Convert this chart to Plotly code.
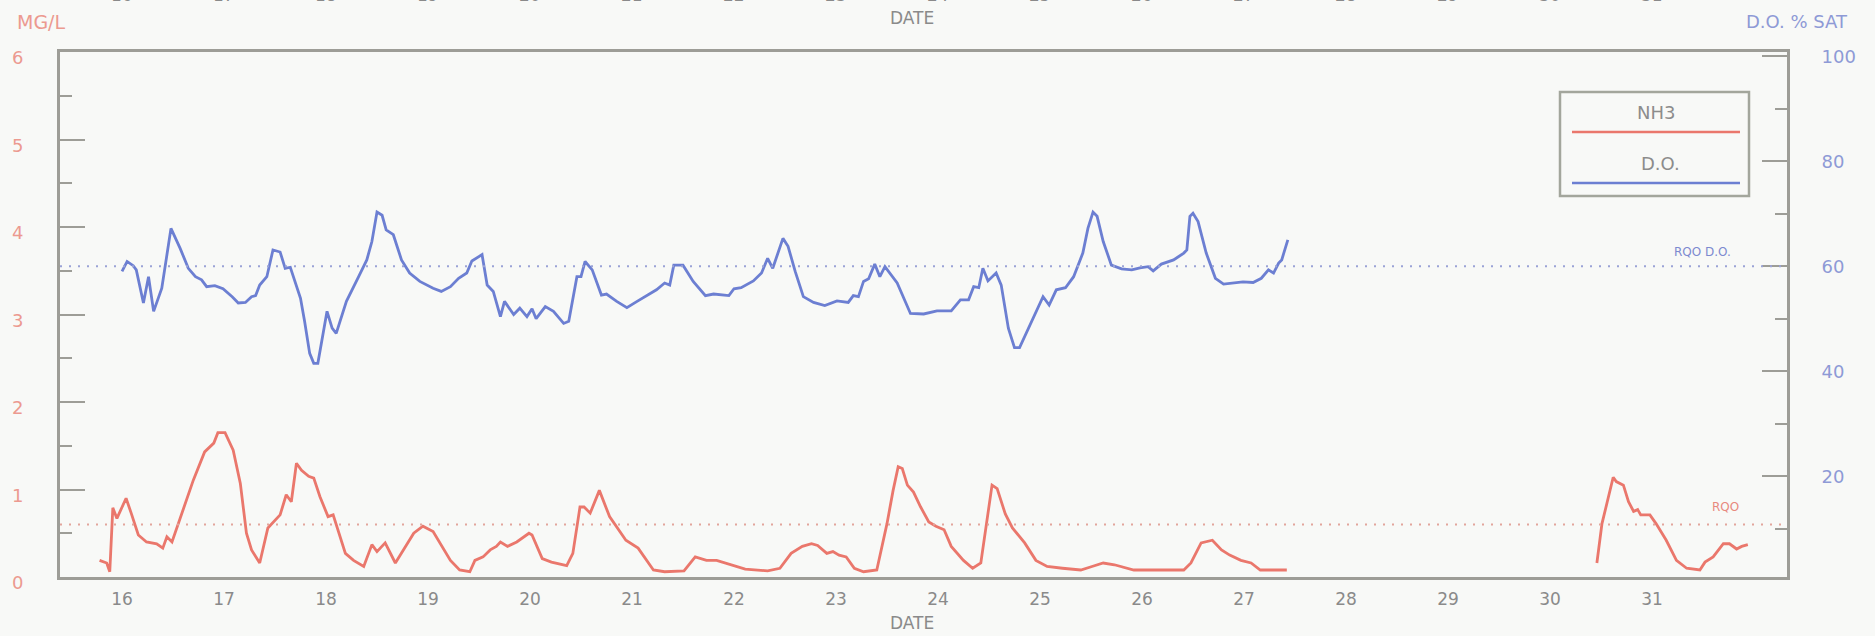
import plotly.graph_objects as go

# ---------------- data ----------------
days = [16, 17, 18, 19, 20, 21, 22, 23, 24, 25, 26, 27, 28, 29, 30, 31]
day_labels = [str(d) for d in days]

nh3_day = [15.78, 15.85, 15.88, 15.91, 15.95, 16.04, 16.09, 16.16, 16.24, 16.34, 16.40, 16.44, 16.49,
           16.59, 16.70, 16.81, 16.90, 16.94, 17.01, 17.09, 17.16, 17.22, 17.27, 17.35, 17.43, 17.55,
           17.61, 17.66, 17.71, 17.76, 17.83, 17.88, 17.94, 18.02, 18.07, 18.19, 18.27, 18.37, 18.45,
           18.50, 18.58, 18.68, 18.86, 18.95, 19.05, 19.22, 19.31, 19.41, 19.46, 19.54, 19.61, 19.67,
           19.71, 19.78, 19.87, 19.99, 20.02, 20.12, 20.21, 20.36, 20.42, 20.49, 20.53, 20.59, 20.68,
           20.78, 20.87, 20.94, 21.06, 21.21, 21.32, 21.51, 21.62, 21.73, 21.83, 21.96, 22.11, 22.33,
           22.45, 22.56, 22.67, 22.76, 22.82, 22.91, 22.97, 23.03, 23.10, 23.18, 23.27, 23.40, 23.50,
           23.56, 23.61, 23.65, 23.70, 23.76, 23.83, 23.91, 23.98, 24.06, 24.13, 24.25, 24.34, 24.42,
           24.47, 24.53, 24.58, 24.66, 24.73, 24.85, 24.96, 25.07, 25.22, 25.40, 25.51, 25.62, 25.73,
           25.92, 26.41, 26.48, 26.58, 26.69, 26.78, 26.86, 26.97, 27.07, 27.16, 27.42, None,
           30.46, 30.51, 30.62, 30.65, 30.72, 30.77, 30.82, 30.86, 30.89, 30.98, 31.04, 31.14, 31.24,
           31.34, 31.47, 31.52, 31.60, 31.70, 31.76, 31.83, 31.88, 31.94]
nh3_mgl = [0.19, 0.16, 0.06, 0.79, 0.67, 0.90, 0.73, 0.48, 0.40, 0.38, 0.33, 0.46, 0.40,
           0.73, 1.11, 1.43, 1.53, 1.65, 1.65, 1.45, 1.07, 0.50, 0.31, 0.16, 0.56, 0.71,
           0.94, 0.86, 1.30, 1.22, 1.15, 1.13, 0.92, 0.69, 0.71, 0.27, 0.19, 0.12, 0.37,
           0.29, 0.39, 0.16, 0.50, 0.58, 0.52, 0.19, 0.08, 0.06, 0.19, 0.23, 0.31, 0.35,
           0.40, 0.35, 0.40, 0.50, 0.48, 0.21, 0.17, 0.13, 0.27, 0.80, 0.80, 0.73, 0.99,
           0.69, 0.54, 0.42, 0.33, 0.08, 0.06, 0.07, 0.23, 0.19, 0.19, 0.14, 0.09, 0.07,
           0.10, 0.27, 0.35, 0.38, 0.36, 0.27, 0.29, 0.25, 0.23, 0.10, 0.06, 0.08, 0.61,
           0.99, 1.26, 1.24, 1.05, 0.97, 0.80, 0.63, 0.58, 0.54, 0.35, 0.19, 0.10, 0.16,
           0.54, 1.05, 1.01, 0.72, 0.56, 0.39, 0.19, 0.12, 0.10, 0.08, 0.12, 0.16, 0.14,
           0.08, 0.08, 0.16, 0.39, 0.42, 0.31, 0.25, 0.19, 0.16, 0.08, 0.08, None,
           0.16, 0.61, 1.14, 1.09, 1.05, 0.86, 0.75, 0.77, 0.71, 0.71, 0.61, 0.42, 0.19,
           0.10, 0.08, 0.17, 0.23, 0.38, 0.38, 0.32, 0.35, 0.37]

do_day = [16.00, 16.05, 16.11, 16.14, 16.21, 16.26, 16.31, 16.39, 16.48, 16.57, 16.65, 16.72, 16.78,
          16.83, 16.91, 16.99, 17.08, 17.14, 17.21, 17.27, 17.31, 17.35, 17.42, 17.48, 17.55, 17.60,
          17.65, 17.75, 17.79, 17.84, 17.88, 17.92, 18.01, 18.06, 18.10, 18.20, 18.32, 18.40, 18.45,
          18.50, 18.55, 18.59, 18.66, 18.74, 18.82, 18.92, 19.05, 19.13, 19.22, 19.30, 19.38, 19.43,
          19.53, 19.58, 19.64, 19.71, 19.75, 19.84, 19.90, 19.97, 20.02, 20.06, 20.15, 20.23, 20.33,
          20.38, 20.46, 20.50, 20.54, 20.61, 20.70, 20.75, 20.85, 20.95, 21.05, 21.14, 21.24, 21.32,
          21.37, 21.41, 21.50, 21.60, 21.72, 21.80, 21.95, 22.00, 22.07, 22.19, 22.27, 22.33, 22.38,
          22.48, 22.53, 22.60, 22.68, 22.78, 22.89, 23.01, 23.12, 23.17, 23.22, 23.27, 23.32, 23.38,
          23.43, 23.48, 23.60, 23.73, 23.86, 23.99, 24.13, 24.22, 24.30, 24.35, 24.40, 24.44, 24.49,
          24.57, 24.62, 24.69, 24.75, 24.80, 24.90, 25.03, 25.09, 25.16, 25.25, 25.33, 25.42, 25.47,
          25.52, 25.56, 25.62, 25.70, 25.80, 25.90, 25.98, 26.06, 26.11, 26.19, 26.31, 26.37, 26.41,
          26.44, 26.47, 26.50, 26.55, 26.63, 26.72, 26.80, 26.90, 26.99, 27.09, 27.17, 27.24, 27.29,
          27.34, 27.37, 27.43]
do_sat = [59.0, 60.9, 60.1, 59.3, 53.0, 58.0, 51.4, 55.8, 67.2, 63.4, 59.6, 58.0, 57.4,
          56.1, 56.3, 55.7, 54.2, 53.0, 53.1, 54.2, 54.4, 56.4, 58.0, 63.1, 62.7, 59.6,
          59.8, 53.9, 49.5, 43.4, 41.5, 41.5, 51.4, 48.2, 47.2, 53.3, 58.0, 61.2, 64.7,
          70.3, 69.7, 66.9, 66.0, 61.2, 58.7, 57.1, 55.8, 55.2, 56.1, 57.7, 58.7, 61.0,
          62.2, 56.4, 55.2, 50.4, 53.3, 50.8, 52.0, 50.4, 51.9, 50.0, 52.3, 51.4, 49.1,
          49.5, 58.0, 58.0, 60.9, 59.3, 54.5, 54.7, 53.3, 52.1, 53.3, 54.4, 55.5, 56.8,
          56.4, 60.2, 60.2, 57.1, 54.4, 54.7, 54.4, 55.7, 55.9, 57.2, 58.7, 61.5, 59.6,
          65.3, 63.8, 59.0, 54.2, 53.1, 52.5, 53.4, 53.1, 54.4, 54.2, 57.1, 57.6, 60.4,
          58.0, 59.9, 56.8, 51.0, 50.9, 51.5, 51.5, 53.6, 53.6, 56.1, 55.9, 59.6, 57.2,
          58.7, 56.4, 48.2, 44.5, 44.5, 48.8, 54.2, 52.6, 55.5, 55.9, 58.0, 62.5, 67.2,
          70.3, 69.5, 64.7, 60.2, 59.5, 59.3, 59.7, 59.9, 59.1, 60.4, 61.2, 62.0, 62.5,
          63.1, 69.5, 70.1, 68.5, 62.5, 57.7, 56.6, 56.8, 57.0, 56.9, 57.7, 59.3, 58.7,
          60.6, 61.2, 65.0]

rqo_nh3 = 0.6      # mg/L
rqo_do = 60        # % saturation
left_ticks = [0, 1, 2, 3, 4, 5, 6]
right_ticks = [20, 40, 60, 80, 100]

# ---------------- style ----------------
FONT = "DejaVu Sans"
NH3_COLOR = "#ea776c"
DO_COLOR = "#6c7fd2"
LEFT_LBL = "#ec9a90"
RIGHT_LBL = "#8e9ad6"
AXIS = "#9d9d97"
GRAY_TXT = "#8a8a8a"
BG = "#f8f9f7"

W, H = 1875, 636
L, R, T, B = 60, 1787, 52, 577


def px(x):
    return (x - L) / (R - L)


def py(y):
    return (B - y) / (B - T)


def note(text, x, y, size, color, xref="paper"):
    return dict(text=text, xref=xref, yref="paper", x=x, y=py(y), showarrow=False,
                xanchor="center", yanchor="middle",
                font=dict(family=FONT, size=size, color=color))


fig = go.Figure()
fig.add_trace(go.Scatter(x=nh3_day, y=nh3_mgl, mode="lines", name="NH3",
                         line=dict(color=NH3_COLOR, width=2.8), connectgaps=False,
                         yaxis="y"))
fig.add_trace(go.Scatter(x=do_day, y=do_sat, mode="lines", name="D.O.",
                         line=dict(color=DO_COLOR, width=2.8), yaxis="y2"))

shapes = [
    dict(type="line", xref="paper", x0=0, x1=1, yref="y", y0=rqo_nh3, y1=rqo_nh3,
         line=dict(color="#e2a59c", width=2, dash="2px,7px")),
    dict(type="line", xref="paper", x0=0, x1=1, yref="y2", y0=rqo_do, y1=rqo_do,
         line=dict(color="#9aa3d6", width=2, dash="2px,7px")),
    # legend box
    dict(type="rect", xref="paper", yref="paper", x0=px(1560), x1=px(1749), y0=py(92), y1=py(196),
         line=dict(color="#a3a69c", width=2.5), fillcolor=BG, layer="above"),
    dict(type="line", xref="paper", yref="paper", x0=px(1572), x1=px(1740), y0=py(132), y1=py(132),
         line=dict(color=NH3_COLOR, width=2.5)),
    dict(type="line", xref="paper", yref="paper", x0=px(1572), x1=px(1740), y0=py(183), y1=py(183),
         line=dict(color=DO_COLOR, width=2.5)),
]

annotations = [
    note("MG/L", px(41), 22, 19, LEFT_LBL),
    note("D.O. % SAT", px(1797), 22, 18, RIGHT_LBL),
    note("DATE", px(912), 18, 17, GRAY_TXT),
    note("DATE", px(912), 623, 17, GRAY_TXT),
    note("NH3", px(1656), 112, 18, "#8c8c8c"),
    note("D.O.", px(1660), 163, 18, "#8c8c8c"),
    note("RQO D.O.", px(1702), 252, 12, "#7d8ad0"),
    note("RQO", px(1725), 507, 12, "#e8897e"),
]
# top axis labels, mostly cut off at the page edge
for d, lab in zip(days, day_labels):
    annotations.append(note(lab, d, -5, 17, GRAY_TXT, xref="x"))

fig.update_layout(
    width=W, height=H,
    margin=dict(l=L, r=W - R, t=T, b=H - B, pad=0),
    paper_bgcolor=BG, plot_bgcolor=BG,
    showlegend=False,
    font=dict(family=FONT),
    shapes=shapes,
    annotations=annotations,
    xaxis=dict(range=[15.392, 32.324], tickvals=days, ticktext=day_labels,
               showgrid=False, zeroline=False, showline=True, mirror=True,
               linecolor=AXIS, linewidth=3, ticks="",
               tickfont=dict(family=FONT, size=17, color=GRAY_TXT), ticklabelstandoff=5),
    yaxis=dict(range=[0, 6], tickvals=left_ticks, showgrid=False, zeroline=False,
               showline=True, linecolor=AXIS, linewidth=3,
               ticks="inside", ticklen=25, tickwidth=2, tickcolor=AXIS,
               minor=dict(dtick=0.5, ticks="inside", ticklen=12, tickwidth=2, tickcolor=AXIS),
               tickfont=dict(family=FONT, size=18, color=LEFT_LBL),
               ticklabelstandoff=30, ticklabelshift=6),
    yaxis2=dict(range=[0.8, 100.8], tickvals=right_ticks, overlaying="y", side="right",
                showgrid=False, zeroline=False, showline=True, linecolor=AXIS, linewidth=3,
                ticks="inside", ticklen=25, tickwidth=2, tickcolor=AXIS,
                minor=dict(dtick=10, ticks="inside", ticklen=12, tickwidth=2, tickcolor=AXIS),
                tickfont=dict(family=FONT, size=18, color=RIGHT_LBL),
                ticklabelstandoff=28),
)

fig.write_html("out.html", config={"displayModeBar": False},
               post_script="document.body.style.margin='0';")
